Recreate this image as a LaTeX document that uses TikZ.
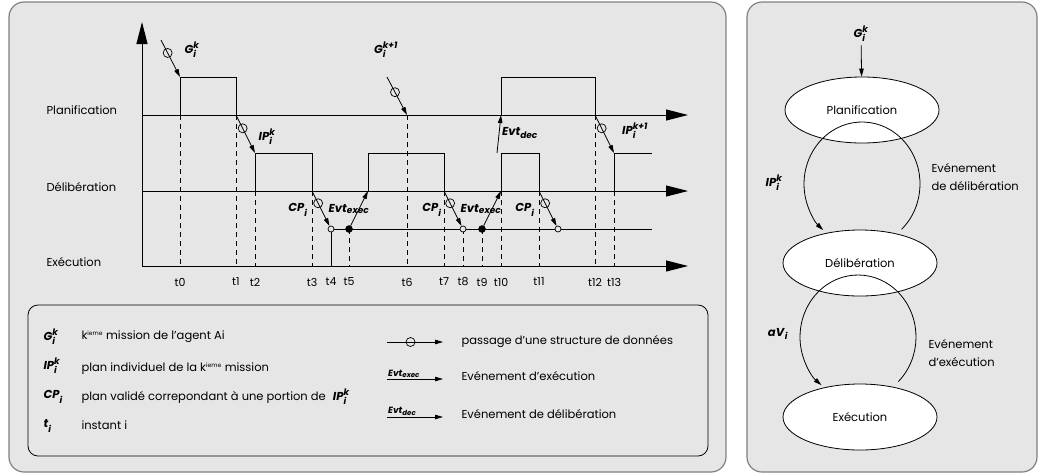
\documentclass[tikz,border=0pt]{standalone}
\usepackage{amsmath}
\usepackage{fontspec}
\setmainfont{Poppins}
\usepackage{xcolor}
\usetikzlibrary{positioning,arrows.meta,shapes.geometric}
\definecolor{panel}{HTML}{E6E6E6}
\definecolor{frame}{HTML}{808080}
\DeclareMathSizes{11.5}{11.5}{9}{7}
\DeclareMathSizes{9}{9}{7}{6}
\newcommand\msym[3]{\textbf{\textit{#1}}$_{\text{\bfseries\itshape #2}}^{\text{\bfseries\itshape #3}}$}
\newcommand\evt[1]{\textbf{\textit{Evt}}$_{\text{\bfseries\itshape #1}}$}
\newcommand\ieme{\textsuperscript{\fontsize{6}{6}\selectfont ieme}}

\begin{document}
\begin{tikzpicture}[x=1pt, y=-1pt, font=\fontsize{11.5}{18}\selectfont,
  >={Triangle[length=8pt, width=4.5pt]},
  box/.style={draw=frame, line width=1.2pt, fill=panel, rounded corners=15pt},
  leg/.style={draw, line width=0.8pt, rounded corners=10pt},
  axis/.style={line width=1pt, -{Triangle[length=22pt, width=11pt]}},
  sig/.style={line width=0.8pt},
  dsh/.style={line width=0.8pt, dash pattern=on 5pt off 4pt},
  flow/.style={line width=0.8pt, ->},
  dcirc/.style={draw, circle, line width=0.7pt, inner sep=0pt, minimum size=9pt},
  ocirc/.style={draw, circle, line width=0.7pt, fill=panel, inner sep=0pt, minimum size=6pt},
  fcirc/.style={draw, circle, fill=black, inner sep=0pt, minimum size=7pt},
  stage/.style={draw, ellipse, line width=0.8pt, fill=white, minimum width=154pt, minimum height=66pt, inner sep=0pt},
  tlab/.style={font=\fontsize{11}{12}\selectfont},
  lvl/.style={anchor=west}]
\useasboundingbox (0,0) rectangle (1040,475);
% panels
\draw[box] (9,2) rectangle (726,472);
\draw[box] (747,2) rectangle (1037,472);
% levels
\coordinate (ph) at (142,77);  \coordinate (pl) at (142,115);
\coordinate (dh) at (142,153); \coordinate (dl) at (142,191);
\coordinate (eh) at (142,229); \coordinate (el) at (142,266);
\coordinate (ytop) at (142,22);
\coordinate (pend) at (688,115); \coordinate (dend) at (688,191); \coordinate (eend) at (688,266);
\node[lvl] (lp) at (43,110) {Planification};
\node[lvl] (ld) at (43,187) {Délibération};
\node[lvl] (le) at (43,262) {Exécution};
\draw[axis] (el) -- (ytop);
\draw[axis] (pl) -- (pend);
\draw[axis] (dl) -- (dend);
\draw[axis] (el) -- (eend);
% instants
\foreach \n/\x in {0/180,1/236,2/255,3/312,4/331,5/349,6/407,7/444,8/463,9/482,10/501,11/539,12/595,13/614}{
  \coordinate (T\n) at (\x,266);
  \node[tlab] (l\n) at (\x,282) {t\n};
}
\foreach \n/\lv in {0/pl,1/pl,2/dl,3/dl,5/eh,6/pl,7/dl,8/eh,9/eh,10/dl,11/dl,12/pl,13/dl}{
  \draw[dsh] (T\n |- \lv) -- (T\n);
}
% activity levels
\coordinate (d2) at (368,191); \coordinate (xend) at (652,229); \coordinate (dend2) at (652,153);
\coordinate (x3) at (558,229);
\draw[sig] (T0 |- pl) |- (T1 |- ph) -- (T1 |- pl);
\draw[sig] (T10 |- pl) |- (T12 |- ph) -- (T12 |- pl);
\draw[sig] (T2 |- dl) |- (T3 |- dh) -- (T3 |- dl);
\draw[sig] (d2) |- (T7 |- dh) -- (T7 |- dl);
\draw[sig] (T10 |- dl) |- (T11 |- dh) -- (T11 |- dl);
\draw[sig] (T13 |- dl) |- (dend2);
\draw[sig] (T4) -- (T4 |- eh) -- (xend);
\node[ocirc] (o1) at (T4 |- eh) {};
\node[ocirc] (o2) at (T8 |- eh) {};
\node[ocirc] (o3) at (x3) {};
\node[fcirc] (f1) at (T5 |- eh) {};
\node[fcirc] (f2) at (T9 |- eh) {};
% data passing
\coordinate (g1) at (161,40); \coordinate (g2) at (387,77); \coordinate (ev) at (497,153);
\draw[flow] (g1) -- node[pos=0.35, dcirc] {} (T0 |- ph);
\draw[flow] (T1 |- pl) -- node[pos=0.35, dcirc] {} (T2 |- dh);
\draw[flow] (T3 |- dl) -- node[pos=0.35, dcirc] {} (o1);
\draw[flow] (g2) -- node[pos=0.4, dcirc] {} (T6 |- pl);
\draw[flow] (T7 |- dl) -- node[pos=0.35, dcirc] {} (o2);
\draw[flow] (T11 |- dl) -- node[pos=0.35, dcirc] {} (o3);
\draw[flow] (T12 |- pl) -- node[pos=0.35, dcirc] {} (T13 |- dh);
% events
\draw[flow] (f1) -- (d2);
\draw[flow] (f2) -- (T10 |- dl);
\draw[flow] (ev) -- (T10 |- pl);
% labels
\node (sg1) at (192,50) {\msym{G}{i}{k}};
\node (sip1) at (267,137) {\msym{IP}{i}{k}};
\node (scp1) at (298,210) {\msym{CP}{i}{}};
\node (se1) at (349,209) {\evt{exec}};
\node (sg2) at (386,50) {\msym{G}{i}{k+1}};
\node (scp2) at (432,210) {\msym{CP}{i}{}};
\node (se2) at (481,209) {\evt{exec}};
\node (sed) at (520,133) {\evt{dec}};
\node (scp3) at (525,210) {\msym{CP}{i}{}};
\node (sip2) at (635,131) {\msym{IP}{i}{k+1}};
% legend
\draw[leg] (28,305) rectangle (708,456);
\node[anchor=west] (kg) at (40,337) {\msym{G}{i}{k}};
\node[anchor=west] (kip) at (40,366) {\msym{IP}{i}{k}};
\node[anchor=west] (kcp) at (40,397) {\msym{CP}{i}{}};
\node[anchor=west] (kt) at (40,426) {\msym{t}{i}{}};
\node[anchor=west] (tg) at (78,337) {k\ieme{} mission de l’agent Ai};
\node[anchor=west] (tip) at (78,369) {plan individuel de la k\ieme{} mission};
\node[anchor=west] (tcp) at (78,397) {plan validé correpondant à une portion de};
\node[anchor=west] (tip2) at (tcp.east) {\msym{IP}{i}{k}};
\node[anchor=west] (tt) at (78,425) {instant i};
\coordinate (a1) at (387,342); \coordinate (b1) at (443,342);
\coordinate (a2) at (387,379); \coordinate (b2) at (443,379);
\coordinate (a3) at (387,417); \coordinate (b3) at (443,417);
\draw[flow] (a1) -- node[pos=0.42, dcirc] {} (b1);
\draw[flow] (a2) -- (b2);
\draw[flow] (a3) -- (b3);
\node[anchor=south west, inner sep=1pt, font=\fontsize{9}{10}\selectfont] (ke1) at (a2) {\evt{exec}};
\node[anchor=south west, inner sep=1pt, font=\fontsize{9}{10}\selectfont] (ke2) at (a3) {\evt{dec}};
\node[anchor=west] (t1) at (458,342) {passage d’une structure de données};
\node[anchor=west] (t2) at (458,376) {Evénement d’exécution};
\node[anchor=west] (t3) at (458,414) {Evénement de délibération};
% cycle
\node[stage] (plan) at (862,110) {Planification};
\node[stage] (delib) at (860,263) {Délibération};
\node[stage] (exec) at (860,417) {Exécution};
\node (sg3) at (861,34) {\msym{G}{i}{k}};
\draw[flow] (sg3) -- (plan);
\coordinate (c1) at (862,184); \coordinate (c2) at (858,337);
\draw[flow] ([shift={(47:58 and 62)}]c1) arc[start angle=47, end angle=-228, x radius=58, y radius=62];
\draw[flow] ([shift={(46:58 and 62)}]c2) arc[start angle=46, end angle=-231, x radius=58, y radius=62];
\node (sip3) at (774,183) {\msym{IP}{i}{k}};
\node (sav) at (778,334) {\textbf{\textit{aV}}$_{\text{\bfseries\itshape i}}$};
\node[anchor=west, align=left] (ev1) at (928,177) {Evénement\\de délibération};
\node[anchor=west, align=left] (ev2) at (925,353) {Evénement\\d’exécution};
\end{tikzpicture}
\end{document}
